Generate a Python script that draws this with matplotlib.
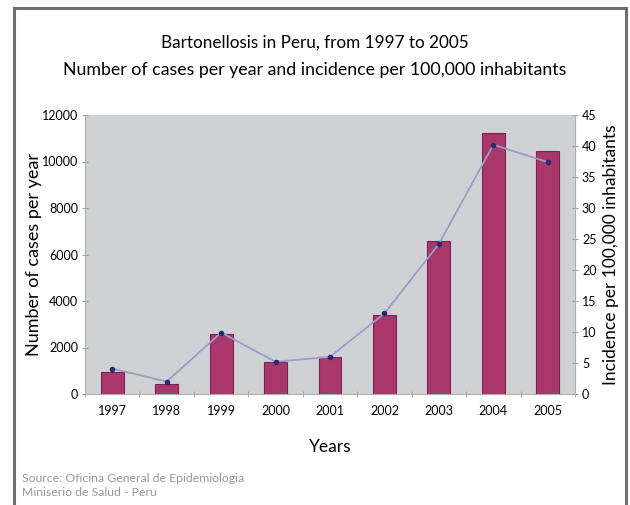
import matplotlib
matplotlib.use("Agg")
import matplotlib.pyplot as plt
import numpy as np
from matplotlib.lines import Line2D

plt.rcParams['font.family'] = ['Lato', 'DejaVu Sans']

years = ['1997', '1998', '1999', '2000', '2001', '2002', '2003', '2004', '2005']
cases = [960, 430, 2570, 1365, 1590, 3410, 6580, 11240, 10470]
incidence = [4.1, 2.0, 9.9, 5.2, 6.0, 13.0, 24.2, 40.2, 37.4]
left_ticks = [0, 2000, 4000, 6000, 8000, 10000, 12000]
right_ticks = [0, 5, 10, 15, 20, 25, 30, 35, 40, 45]

fig = plt.figure(figsize=(6.3, 5.05), dpi=100)
fig.patch.set_facecolor('white')

# outer frame
fc = '#6e6e6e'
fig.add_artist(Line2D([13.5/630, 13.5/630], [0, 1 - 8/505], transform=fig.transFigure, color=fc, lw=2.2))
fig.add_artist(Line2D([626/630, 626/630], [0, 1 - 8/505], transform=fig.transFigure, color=fc, lw=2.2))
fig.add_artist(Line2D([13.5/630, 626/630], [1 - 8/505, 1 - 8/505], transform=fig.transFigure, color=fc, lw=2.2))

ax = fig.add_axes([85/630, (505-394)/505, (575-85)/630, (394-115)/505])
ax.set_facecolor('#cfd1d4')
x = np.arange(len(years))
ax.bar(x, cases, width=0.42, color='#a8386c', edgecolor='#7c2350', linewidth=0.8, zorder=2)
ax.set_xlim(-0.5, len(years) - 0.5)
ax.set_ylim(0, 12000)
ax.set_yticks(left_ticks)
ax.set_yticklabels([str(t) for t in left_ticks], fontsize=9)
ax.set_xticks(x)
ax.set_xticklabels(years, fontsize=9)
ax.set_xticks(np.arange(len(years) + 1) - 0.5, minor=True)
ax.tick_params(axis='x', which='major', length=0, pad=8)
ax.tick_params(axis='x', which='minor', length=5, direction='inout', color='#a0a0a0')
ax.tick_params(axis='y', length=4, direction='inout', color='#a0a0a0', pad=3)
for s in ['top', 'right']:
    ax.spines[s].set_visible(False)
ax.spines['left'].set_color('#b0b0b0')
ax.spines['bottom'].set_color('#b0b0b0')
ax.set_ylabel('Number of cases per year', fontsize=13)
ax.yaxis.set_label_coords(-0.088, 0.5)
ax.set_xlabel('Years', fontsize=12.5, labelpad=16)

ax2 = ax.twinx()
ax2.plot(x, incidence, color='#9d9cc8', lw=1.3, marker='o', markersize=3,
         markerfacecolor='#2a2a70', markeredgecolor='#2a2a70', zorder=3)
ax2.set_ylim(0, 45)
ax2.set_yticks(right_ticks)
ax2.set_yticklabels([str(t) for t in right_ticks], fontsize=9)
ax2.tick_params(axis='y', length=4, direction='inout', color='#a0a0a0', pad=3)
for s in ['top', 'left', 'bottom']:
    ax2.spines[s].set_visible(False)
ax2.spines['right'].set_color('#b0b0b0')
ax2.set_ylabel('Incidence per 100,000 inhabitants', fontsize=12.5)
ax2.yaxis.set_label_coords(1.058, 0.5)

fig.text(0.5, 1 - 43/505, 'Bartonellosis in Peru, from 1997 to 2005', ha='center', va='center', fontsize=12.3)
fig.text(0.5, 1 - 70/505, 'Number of cases per year and incidence per 100,000 inhabitants', ha='center', va='center', fontsize=12.8)
fig.text(22/630, 1 - 478/505, 'Source: Oficina General de Epidemiologia', ha='left', va='center', fontsize=8.8, color='#999999')
fig.text(22/630, 1 - 492/505, 'Miniserio de Salud - Peru', ha='left', va='center', fontsize=8.8, color='#999999')

fig.savefig('out.png', dpi=100)
